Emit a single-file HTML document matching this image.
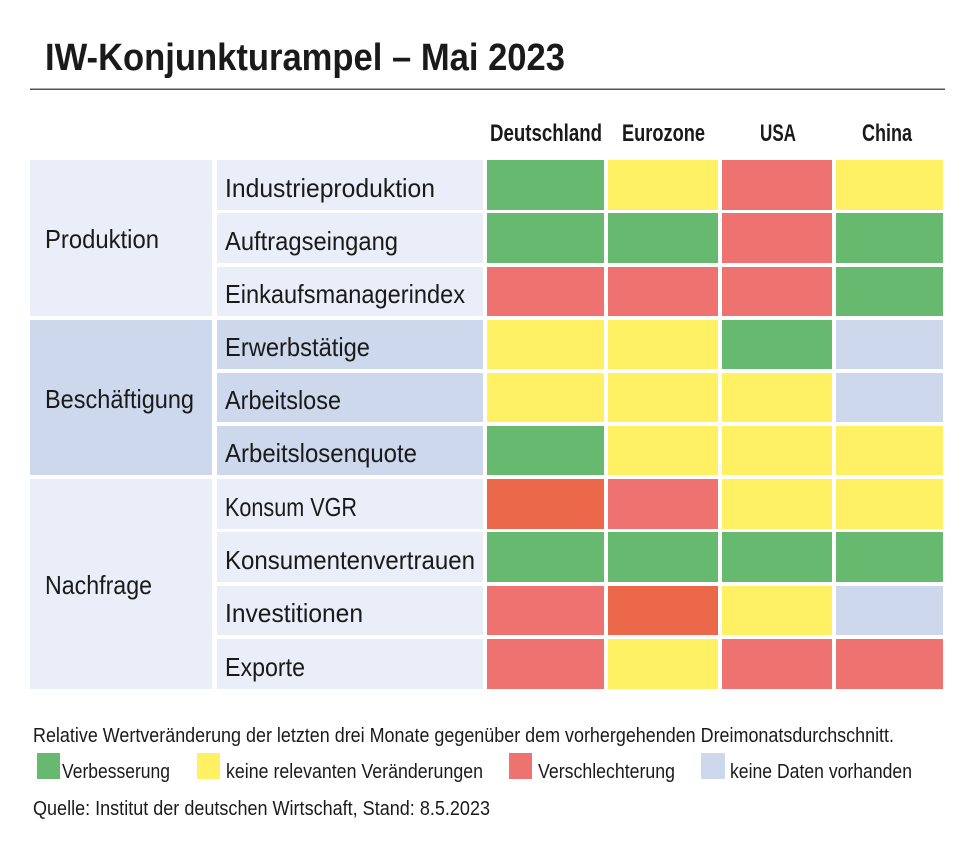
<!DOCTYPE html>
<html><head><meta charset="utf-8"><style>html,body{margin:0;padding:0;background:#fff}svg{display:block}</style></head>
<body>
<svg width="980" height="849" viewBox="0 0 980 849" xmlns="http://www.w3.org/2000/svg" font-family="Liberation Sans, sans-serif" fill="#1a1a1a">
<rect width="980" height="849" fill="#fff"/>
<text x="45" y="70" font-size="38" font-weight="bold" textLength="520" lengthAdjust="spacingAndGlyphs">IW-Konjunkturampel – Mai 2023</text>
<rect x="30" y="88.5" width="915" height="1.5" fill="#555"/>
<g font-size="24" font-weight="bold">
<text x="490" y="141" textLength="112" lengthAdjust="spacingAndGlyphs">Deutschland</text>
<text x="622" y="141" textLength="83" lengthAdjust="spacingAndGlyphs">Eurozone</text>
<text x="760" y="141" textLength="36" lengthAdjust="spacingAndGlyphs">USA</text>
<text x="862" y="141" textLength="50" lengthAdjust="spacingAndGlyphs">China</text>
</g>
<!-- group cells -->
<rect x="30" y="160" width="182" height="156" fill="#e9eef8"/>
<rect x="30" y="320" width="182" height="155" fill="#cdd8ec"/>
<rect x="30" y="479" width="182" height="210" fill="#e9eef8"/>
<g font-size="26">
<text x="45" y="248" textLength="114" lengthAdjust="spacingAndGlyphs">Produktion</text>
<text x="45" y="408" textLength="149" lengthAdjust="spacingAndGlyphs">Beschäftigung</text>
<text x="45" y="594" textLength="107" lengthAdjust="spacingAndGlyphs">Nachfrage</text>
</g>
<!-- label cells -->
<g>
<rect x="217" y="160" width="266" height="50" fill="#e9eef8"/>
<rect x="217" y="213" width="266" height="50" fill="#e9eef8"/>
<rect x="217" y="267" width="266" height="49" fill="#e9eef8"/>
<rect x="217" y="320" width="266" height="49" fill="#cdd8ec"/>
<rect x="217" y="373" width="266" height="49" fill="#cdd8ec"/>
<rect x="217" y="426" width="266" height="49" fill="#cdd8ec"/>
<rect x="217" y="479" width="266" height="50" fill="#e9eef8"/>
<rect x="217" y="532" width="266" height="50" fill="#e9eef8"/>
<rect x="217" y="586" width="266" height="49" fill="#e9eef8"/>
<rect x="217" y="639" width="266" height="50" fill="#e9eef8"/>
</g>
<g font-size="26">
<text x="225" y="197" textLength="210" lengthAdjust="spacingAndGlyphs">Industrieproduktion</text>
<text x="225" y="250" textLength="173" lengthAdjust="spacingAndGlyphs">Auftragseingang</text>
<text x="225" y="303" textLength="240" lengthAdjust="spacingAndGlyphs">Einkaufsmanagerindex</text>
<text x="225" y="356" textLength="145" lengthAdjust="spacingAndGlyphs">Erwerbstätige</text>
<text x="225" y="409" textLength="116" lengthAdjust="spacingAndGlyphs">Arbeitslose</text>
<text x="225" y="462" textLength="192" lengthAdjust="spacingAndGlyphs">Arbeitslosenquote</text>
<text x="225" y="516" textLength="132" lengthAdjust="spacingAndGlyphs">Konsum VGR</text>
<text x="225" y="569" textLength="250" lengthAdjust="spacingAndGlyphs">Konsumentenvertrauen</text>
<text x="225" y="622" textLength="138" lengthAdjust="spacingAndGlyphs">Investitionen</text>
<text x="225" y="676" textLength="80" lengthAdjust="spacingAndGlyphs">Exporte</text>
</g>
<!-- data cells: G=#66b96f Y=#fff064 R=#ee7370 O=#ec684b N=#cdd8ec -->
<g>
<!-- row1 -->
<rect x="487" y="160" width="117" height="50" fill="#66b96f"/><rect x="608" y="160" width="110" height="50" fill="#fff064"/><rect x="722" y="160" width="110" height="50" fill="#ee7370"/><rect x="836" y="160" width="107" height="50" fill="#fff064"/>
<rect x="487" y="213" width="117" height="50" fill="#66b96f"/><rect x="608" y="213" width="110" height="50" fill="#66b96f"/><rect x="722" y="213" width="110" height="50" fill="#ee7370"/><rect x="836" y="213" width="107" height="50" fill="#66b96f"/>
<rect x="487" y="267" width="117" height="49" fill="#ee7370"/><rect x="608" y="267" width="110" height="49" fill="#ee7370"/><rect x="722" y="267" width="110" height="49" fill="#ee7370"/><rect x="836" y="267" width="107" height="49" fill="#66b96f"/>
<rect x="487" y="320" width="117" height="49" fill="#fff064"/><rect x="608" y="320" width="110" height="49" fill="#fff064"/><rect x="722" y="320" width="110" height="49" fill="#66b96f"/><rect x="836" y="320" width="107" height="49" fill="#cdd8ec"/>
<rect x="487" y="373" width="117" height="49" fill="#fff064"/><rect x="608" y="373" width="110" height="49" fill="#fff064"/><rect x="722" y="373" width="110" height="49" fill="#fff064"/><rect x="836" y="373" width="107" height="49" fill="#cdd8ec"/>
<rect x="487" y="426" width="117" height="49" fill="#66b96f"/><rect x="608" y="426" width="110" height="49" fill="#fff064"/><rect x="722" y="426" width="110" height="49" fill="#fff064"/><rect x="836" y="426" width="107" height="49" fill="#fff064"/>
<rect x="487" y="479" width="117" height="50" fill="#ec684b"/><rect x="608" y="479" width="110" height="50" fill="#ee7370"/><rect x="722" y="479" width="110" height="50" fill="#fff064"/><rect x="836" y="479" width="107" height="50" fill="#fff064"/>
<rect x="487" y="532" width="117" height="50" fill="#66b96f"/><rect x="608" y="532" width="110" height="50" fill="#66b96f"/><rect x="722" y="532" width="110" height="50" fill="#66b96f"/><rect x="836" y="532" width="107" height="50" fill="#66b96f"/>
<rect x="487" y="586" width="117" height="49" fill="#ee7370"/><rect x="608" y="586" width="110" height="49" fill="#ec684b"/><rect x="722" y="586" width="110" height="49" fill="#fff064"/><rect x="836" y="586" width="107" height="49" fill="#cdd8ec"/>
<rect x="487" y="639" width="117" height="50" fill="#ee7370"/><rect x="608" y="639" width="110" height="50" fill="#fff064"/><rect x="722" y="639" width="110" height="50" fill="#ee7370"/><rect x="836" y="639" width="107" height="50" fill="#ee7370"/>
</g>
<g font-size="20">
<text x="33" y="742" textLength="861" lengthAdjust="spacingAndGlyphs">Relative Wertveränderung der letzten drei Monate gegenüber dem vorhergehenden Dreimonatsdurchschnitt.</text>
<rect x="37" y="753" width="23" height="26" fill="#66b96f"/>
<text x="62" y="778" textLength="108" lengthAdjust="spacingAndGlyphs">Verbesserung</text>
<rect x="197" y="753" width="23" height="26" fill="#fff064"/>
<text x="226" y="778" textLength="257" lengthAdjust="spacingAndGlyphs">keine relevanten Veränderungen</text>
<rect x="509" y="753" width="23" height="26" fill="#ee7370"/>
<text x="538" y="778" textLength="137" lengthAdjust="spacingAndGlyphs">Verschlechterung</text>
<rect x="701" y="753" width="24" height="26" fill="#cdd8ec"/>
<text x="730" y="778" textLength="182" lengthAdjust="spacingAndGlyphs">keine Daten vorhanden</text>
<text x="33" y="815" textLength="457" lengthAdjust="spacingAndGlyphs">Quelle: Institut der deutschen Wirtschaft, Stand: 8.5.2023</text>
</g>
</svg>
</body></html>
